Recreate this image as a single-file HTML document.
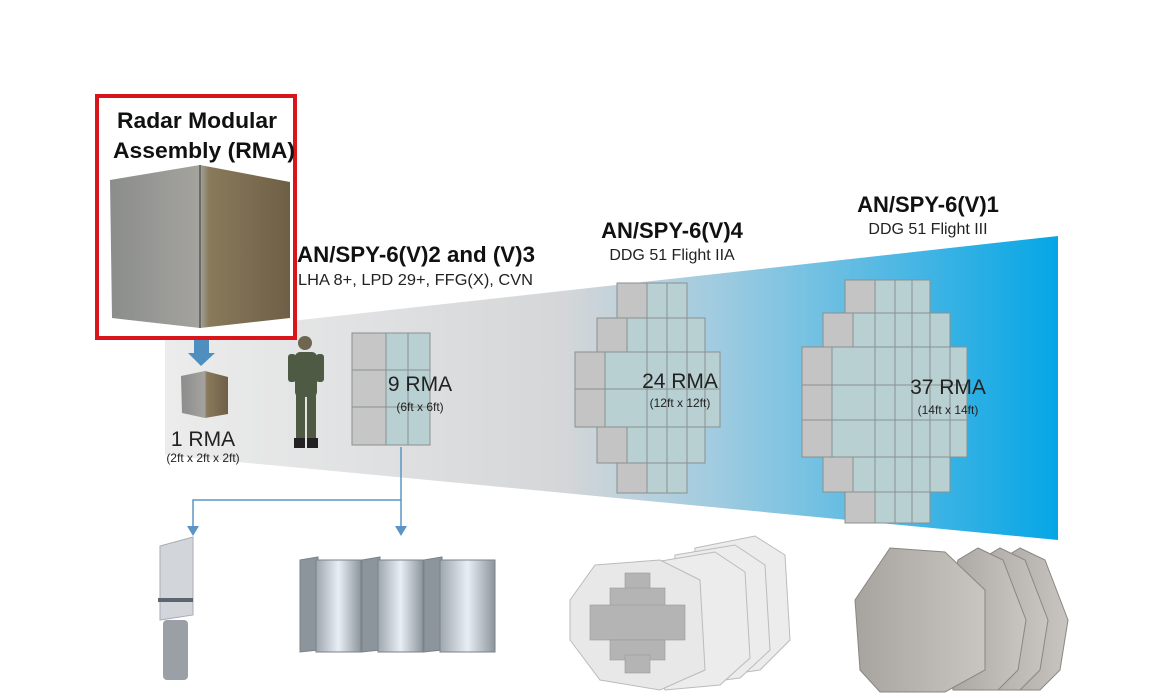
<!DOCTYPE html>
<html><head><meta charset="utf-8"><style>
html,body{margin:0;padding:0;background:#fff;}
svg{display:block;font-family:"Liberation Sans",Arial,sans-serif;}
</style></head><body>
<svg width="1166" height="697" viewBox="0 0 1166 697" xmlns="http://www.w3.org/2000/svg">
<defs>
<linearGradient id="wg" x1="0" x2="1" y1="0" y2="0">
<stop offset="0" stop-color="#ececec"/>
<stop offset="0.45" stop-color="#d4d6d8"/>
<stop offset="0.62" stop-color="#9fcbe0"/>
<stop offset="1" stop-color="#05a6e6"/>
</linearGradient>
<linearGradient id="cube" x1="0" x2="1">
<stop offset="0" stop-color="#8b8d8c"/><stop offset="0.5" stop-color="#a4a39e"/><stop offset="0.55" stop-color="#8a7a5c"/><stop offset="1" stop-color="#6e5f46"/>
</linearGradient>
<linearGradient id="pan" x1="0" x2="1"><stop offset="0" stop-color="#9ea6ae"/><stop offset="0.5" stop-color="#e8eef4"/><stop offset="1" stop-color="#8c949c"/></linearGradient>
<linearGradient id="oct" x1="0" x2="1"><stop offset="0" stop-color="#a7a39e"/><stop offset="1" stop-color="#c9c6c2"/></linearGradient>
</defs>

<polygon points="165,335 1058,236 1058,540 165,455" fill="url(#wg)"/>

<rect x="97" y="96" width="198" height="242" fill="#fff" stroke="#d9141b" stroke-width="4"/>
<text x="117" y="128" font-size="22" font-weight="bold" fill="#111" textLength="160" lengthAdjust="spacingAndGlyphs">Radar Modular</text>
<text x="113" y="158" font-size="22" font-weight="bold" fill="#111" textLength="182" lengthAdjust="spacingAndGlyphs">Assembly (RMA)</text>
<polygon points="110,180 200,165 290,182 290,318 200,328 112,318" fill="url(#cube)"/>
<line x1="200" y1="165" x2="200" y2="328" stroke="#6a6a66" stroke-width="2"/>

<rect x="194" y="340" width="15" height="14" fill="#4f8fc0"/>
<polygon points="188,353 215,353 201,366" fill="#4f8fc0"/>
<polygon points="181,376 205,371 228,377 228,414 205,418 182,413" fill="url(#cube)"/>
<text x="203" y="446" font-size="21" text-anchor="middle" fill="#222">1 RMA</text>
<text x="203" y="462" font-size="12" text-anchor="middle" fill="#222">(2ft x 2ft x 2ft)</text>

<g fill="#4f5a45">
<ellipse cx="305" cy="343" rx="7" ry="7" fill="#6e6650"/>
<rect x="295" y="352" width="22" height="45" rx="5"/>
<rect x="288" y="354" width="8" height="28" rx="3"/>
<rect x="316" y="354" width="8" height="28" rx="3"/>
<rect x="296" y="395" width="9" height="45"/>
<rect x="307" y="395" width="9" height="45"/>
<rect x="294" y="438" width="11" height="10" fill="#222"/>
<rect x="307" y="438" width="11" height="10" fill="#222"/>
</g>

<g stroke="#8a9090" stroke-width="1">
<rect x="352" y="333" width="78" height="112" fill="#b8d0d2"/>
<rect x="352" y="333" width="34" height="37" fill="#c6c6c6"/>
<rect x="352" y="370" width="34" height="37" fill="#c6c6c6"/>
<rect x="352" y="407" width="34" height="38" fill="#c6c6c6"/>
<line x1="408" y1="333" x2="408" y2="445"/><line x1="386" y1="370" x2="430" y2="370"/><line x1="386" y1="407" x2="430" y2="407"/>
</g>
<text x="420" y="391" font-size="21" text-anchor="middle" fill="#222">9 RMA</text>
<text x="420" y="411" font-size="12" text-anchor="middle" fill="#222">(6ft x 6ft)</text>

<text x="297" y="262" font-size="22" font-weight="bold" fill="#111" textLength="238" lengthAdjust="spacingAndGlyphs">AN/SPY-6(V)2 and (V)3</text>
<text x="298" y="285" font-size="16" fill="#222" textLength="235" lengthAdjust="spacingAndGlyphs">LHA 8+, LPD 29+, FFG(X), CVN</text>
<text x="672" y="238" font-size="22" font-weight="bold" text-anchor="middle" fill="#111">AN/SPY-6(V)4</text>
<text x="672" y="260" font-size="16" text-anchor="middle" fill="#222">DDG 51 Flight IIA</text>
<text x="928" y="212" font-size="22" font-weight="bold" text-anchor="middle" fill="#111">AN/SPY-6(V)1</text>
<text x="928" y="234" font-size="16" text-anchor="middle" fill="#222">DDG 51 Flight III</text>

<g stroke="#8a9090" stroke-width="1">
<rect x="617" y="283" width="70" height="35" fill="#b8d0d2"/><rect x="617" y="283" width="30" height="35" fill="#c4c4c4"/>
<rect x="597" y="318" width="108" height="34" fill="#b8d0d2"/><rect x="597" y="318" width="30" height="34" fill="#c4c4c4"/>
<rect x="575" y="352" width="145" height="37" fill="#b8d0d2"/><rect x="575" y="352" width="30" height="37" fill="#c4c4c4"/>
<rect x="575" y="389" width="145" height="38" fill="#b8d0d2"/><rect x="575" y="389" width="30" height="38" fill="#c4c4c4"/>
<rect x="597" y="427" width="108" height="36" fill="#b8d0d2"/><rect x="597" y="427" width="30" height="36" fill="#c4c4c4"/>
<rect x="617" y="463" width="70" height="30" fill="#b8d0d2"/><rect x="617" y="463" width="30" height="30" fill="#c4c4c4"/>
<line x1="667" y1="283" x2="667" y2="493"/><line x1="647" y1="318" x2="647" y2="463"/><line x1="687" y1="318" x2="687" y2="463"/><line x1="705" y1="352" x2="705" y2="427"/>
</g>
<text x="680" y="388" font-size="21" text-anchor="middle" fill="#222">24 RMA</text>
<text x="680" y="407" font-size="12" text-anchor="middle" fill="#222">(12ft x 12ft)</text>

<g stroke="#8a9090" stroke-width="1">
<rect x="845" y="280" width="85" height="33" fill="#b8d0d2"/><rect x="845" y="280" width="30" height="33" fill="#c4c4c4"/>
<rect x="823" y="313" width="127" height="34" fill="#b8d0d2"/><rect x="823" y="313" width="30" height="34" fill="#c4c4c4"/>
<rect x="802" y="347" width="165" height="38" fill="#b8d0d2"/><rect x="802" y="347" width="30" height="38" fill="#c4c4c4"/>
<rect x="802" y="385" width="165" height="35" fill="#b8d0d2"/><rect x="802" y="385" width="30" height="35" fill="#c4c4c4"/>
<rect x="802" y="420" width="165" height="37" fill="#b8d0d2"/><rect x="802" y="420" width="30" height="37" fill="#c4c4c4"/>
<rect x="823" y="457" width="127" height="35" fill="#b8d0d2"/><rect x="823" y="457" width="30" height="35" fill="#c4c4c4"/>
<rect x="845" y="492" width="85" height="31" fill="#b8d0d2"/><rect x="845" y="492" width="30" height="31" fill="#c4c4c4"/>
<line x1="895" y1="280" x2="895" y2="523"/><line x1="912" y1="280" x2="912" y2="523"/><line x1="875" y1="313" x2="875" y2="492"/><line x1="930" y1="313" x2="930" y2="492"/><line x1="950" y1="347" x2="950" y2="457"/>
</g>
<text x="948" y="394" font-size="21" text-anchor="middle" fill="#222">37 RMA</text>
<text x="948" y="414" font-size="12" text-anchor="middle" fill="#222">(14ft x 14ft)</text>

<g stroke="#5b95c6" stroke-width="1.5" fill="none">
<polyline points="401,447 401,500 193,500 193,528"/>
<line x1="401" y1="500" x2="401" y2="528"/>
</g>
<polygon points="187,526 199,526 193,536" fill="#5b95c6"/>
<polygon points="395,526 407,526 401,536" fill="#5b95c6"/>

<polygon points="160,546 193,537 193,615 160,620" fill="#d2d6da" stroke="#aab" stroke-width="1"/>
<rect x="158" y="598" width="35" height="4" fill="#5d6670"/>
<rect x="163" y="620" width="25" height="60" rx="4" fill="#9aa0a6"/>
<g stroke="#7a828a" stroke-width="1">
<polygon points="300,560 318,557 318,650 300,652" fill="#8c949c"/><rect x="316" y="560" width="45" height="92" fill="url(#pan)"/>
<polygon points="362,560 380,557 380,650 362,652" fill="#8c949c"/><rect x="378" y="560" width="45" height="92" fill="url(#pan)"/>
<polygon points="424,560 442,557 442,650 424,652" fill="#8c949c"/><rect x="440" y="560" width="55" height="92" fill="url(#pan)"/>
</g>
<g stroke="#bbb" stroke-width="1" fill="#ececec">
<polygon points="695,548 755,536 785,555 790,640 760,670 705,678 690,640"/>
<polygon points="675,555 735,545 765,565 770,650 740,678 685,685 670,650"/>
<polygon points="655,562 715,552 745,572 750,658 720,685 665,690 650,658"/>
<polygon points="595,565 660,560 700,580 705,670 660,690 600,680 570,640 570,600" fill="#e8e8e8"/>
</g>
<g fill="#b4b4b4" stroke="#999" stroke-width="0.6">
<rect x="625" y="573" width="25" height="25"/><rect x="610" y="588" width="55" height="25"/><rect x="590" y="605" width="95" height="35"/><rect x="610" y="640" width="55" height="20"/><rect x="625" y="655" width="25" height="18"/>
</g>
<g stroke="#8a8682" stroke-width="1" fill="url(#oct)">
<polygon points="1020,548 1045,560 1068,620 1060,670 1040,690 995,690 985,620 1000,560"/>
<polygon points="1000,548 1025,560 1048,620 1040,670 1020,690 975,690 965,620 980,560"/>
<polygon points="978,548 1003,560 1026,620 1018,670 998,690 953,690 943,620 958,560"/>
<polygon points="890,548 945,552 985,590 985,670 945,692 880,692 860,670 855,600"/>
</g>
</svg>
</body></html>
